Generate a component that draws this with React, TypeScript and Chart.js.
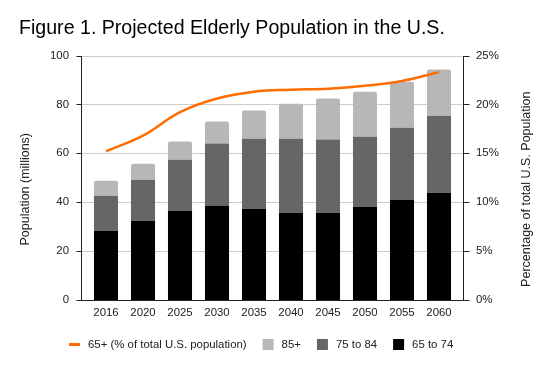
import React, { useEffect, useRef } from "react";
import { Chart, registerables } from "chart.js";

Chart.register(...registerables);

const TITLE = "Figure 1. Projected Elderly Population in the U.S.";
const categories = ["2016", "2020", "2025", "2030", "2035", "2040", "2045", "2050", "2055", "2060"];
const age65to74 = [28.3, 32.4, 36.5, 38.5, 37.3, 35.7, 35.7, 38.1, 41.0, 43.9];
const age75to84 = [14.3, 16.8, 20.9, 25.5, 28.7, 30.3, 29.9, 28.7, 29.5, 31.5];
const age85plus = [6.2, 6.5, 7.4, 9.0, 11.5, 14.3, 16.8, 18.4, 18.8, 18.9];
const pctOfTotal = [15.2, 16.8, 19.2, 20.6, 21.3, 21.5, 21.6, 21.9, 22.4, 23.3];
const leftTicks = [0, 20, 40, 60, 80, 100];
const rightTicks = [0, 5, 10, 15, 20, 25];
const LEFT_TITLE = "Population (millions)";
const RIGHT_TITLE = "Percentage of total U.S. Population";
const LINE_LABEL = "65+ (% of total U.S. population)";
const LBL_85 = "85+";
const LBL_75 = "75 to 84";
const LBL_65 = "65 to 74";

const FONT = "'Liberation Sans', Arial, sans-serif";
const ORANGE = "#ff6d01";
const C85 = "#b7b7b7";
const C75 = "#666666";
const C65 = "#000000";
const TEXT = "#222222";
const SMALL = 11.4;

const customPlugin = {
  id: "custom",
  beforeDatasetsDraw(chart: any) {
    const { ctx, chartArea, scales } = chart;
    const axL = chartArea.left - 6.5;
    const axR = chartArea.right + 5.5;
    ctx.save();
    ctx.strokeStyle = "#cccccc";
    ctx.lineWidth = 1;
    leftTicks.forEach((v) => {
      if (v === 0) return;
      const y = Math.round(scales.y.getPixelForValue(v)) + 0.5;
      ctx.beginPath();
      ctx.moveTo(axL, y);
      ctx.lineTo(axR, y);
      ctx.stroke();
    });
    ctx.restore();
  },
  afterDatasetsDraw(chart: any) {
    const { ctx, chartArea, scales } = chart;
    const axL = Math.round(chartArea.left - 6.5) + 0.5;
    const axR = Math.round(chartArea.right + 5.5) + 0.5;
    const yTop = Math.round(scales.y.getPixelForValue(100)) + 0.5;
    const yBot = Math.round(scales.y.getPixelForValue(0)) + 0.5;
    ctx.save();
    ctx.strokeStyle = "#222222";
    ctx.lineWidth = 1;
    ctx.beginPath();
    ctx.moveTo(axL, yTop - 0.5);
    ctx.lineTo(axL, yBot);
    ctx.moveTo(axR, yTop - 0.5);
    ctx.lineTo(axR, yBot);
    ctx.moveTo(axL, yBot);
    ctx.lineTo(axR, yBot);
    leftTicks.forEach((v) => {
      const y = Math.round(scales.y.getPixelForValue(v)) + 0.5;
      ctx.moveTo(axL - 5, y);
      ctx.lineTo(axL, y);
    });
    rightTicks.forEach((v) => {
      const y = Math.round(scales.y1.getPixelForValue(v)) + 0.5;
      ctx.moveTo(axR, y);
      ctx.lineTo(axR + 6, y);
    });
    ctx.stroke();

    // axis titles
    const midY = (chartArea.top + chartArea.bottom) / 2 + 11.5;
    ctx.fillStyle = TEXT;
    ctx.font = `12.5px ${FONT}`;
    ctx.textAlign = "center";
    ctx.textBaseline = "middle";
    ctx.save();
    ctx.translate(25.5, midY);
    ctx.rotate(-Math.PI / 2);
    ctx.fillText(LEFT_TITLE, 0, 0);
    ctx.restore();
    ctx.save();
    ctx.translate(526.5, midY);
    ctx.rotate(-Math.PI / 2);
    ctx.fillText(RIGHT_TITLE, 0, 0);
    ctx.restore();

    // legend
    ctx.font = `${SMALL}px ${FONT}`;
    const ly = 344.5;
    let x = 69;
    ctx.textAlign = "left";
    ctx.fillStyle = ORANGE;
    ctx.fillRect(x, ly - 1.5, 11, 3);
    x += 19;
    ctx.fillStyle = TEXT;
    ctx.fillText(LINE_LABEL, x, ly);
    x += ctx.measureText(LINE_LABEL).width + 16;
    const items: [string, string][] = [
      [C85, LBL_85],
      [C75, LBL_75],
      [C65, LBL_65],
    ];
    items.forEach(([c, t]) => {
      ctx.fillStyle = c;
      ctx.fillRect(x, ly - 5.5, 11, 11);
      x += 19;
      ctx.fillStyle = TEXT;
      ctx.fillText(t, x, ly);
      x += ctx.measureText(t).width + 16;
    });
    ctx.restore();
  },
};

export default function App() {
  const ref = useRef<HTMLCanvasElement | null>(null);
  useEffect(() => {
    document.body.style.margin = "0";
    const canvas = ref.current;
    if (!canvas) return;
    const chart = new Chart(canvas, {
      type: "bar",
      data: {
        labels: categories,
        datasets: [
          {
            type: "line",
            label: LINE_LABEL,
            data: pctOfTotal,
            yAxisID: "y1",
            borderColor: ORANGE,
            backgroundColor: ORANGE,
            borderWidth: 2.5,
            pointRadius: 0,
            tension: 0.4,
            fill: false,
          } as any,
          {
            label: LBL_65,
            data: age65to74,
            backgroundColor: C65,
            yAxisID: "y",
            stack: "s",
          },
          {
            label: LBL_75,
            data: age75to84,
            backgroundColor: C75,
            yAxisID: "y",
            stack: "s",
          },
          {
            label: LBL_85,
            data: age85plus,
            backgroundColor: C85,
            yAxisID: "y",
            stack: "s",
            borderRadius: { topLeft: 2, topRight: 2, bottomLeft: 0, bottomRight: 0 },
            borderSkipped: false,
          },
        ],
      },
      options: {
        responsive: false,
        animation: false,
        devicePixelRatio: 1,
        datasets: { bar: { barPercentage: 0.65, categoryPercentage: 1 } },
        layout: { padding: { left: 19, right: 0, top: 0, bottom: 0 } },
        plugins: {
          legend: { display: false },
          tooltip: { enabled: false },
          title: {
            display: true,
            text: TITLE,
            align: "start",
            color: "#000000",
            font: { family: FONT, size: 19.6, weight: "normal" },
            padding: { top: 16.5, bottom: 15.5 },
          },
        },
        scales: {
          x: {
            stacked: true,
            grid: { display: false, drawTicks: false },
            border: { display: false },
            ticks: { color: TEXT, font: { family: FONT, size: SMALL }, padding: 6, maxRotation: 0 },
            afterFit: (s: any) => {
              s.height = 71;
            },
          },
          y: {
            stacked: true,
            position: "left",
            min: 0,
            max: 100,
            grid: { display: false, drawTicks: false },
            border: { display: false },
            ticks: { stepSize: 20, color: TEXT, font: { family: FONT, size: SMALL }, padding: 18.5 },
            afterFit: (s: any) => {
              s.width = 68.5;
            },
          },
          y1: {
            position: "right",
            min: 0,
            max: 25,
            grid: { display: false, drawTicks: false },
            border: { display: false },
            ticks: {
              stepSize: 5,
              color: TEXT,
              font: { family: FONT, size: SMALL },
              padding: 18.5,
              callback: (v: any) => v + "%",
            },
            afterFit: (s: any) => {
              s.width = 94.5;
            },
          },
        },
      },
      plugins: [customPlugin],
    });
    return () => chart.destroy();
  }, []);
  return (
    <div style={{ width: 552, height: 371, background: "#fff" }}>
      <canvas ref={ref} width={552} height={371} style={{ display: "block" }} />
    </div>
  );
}
